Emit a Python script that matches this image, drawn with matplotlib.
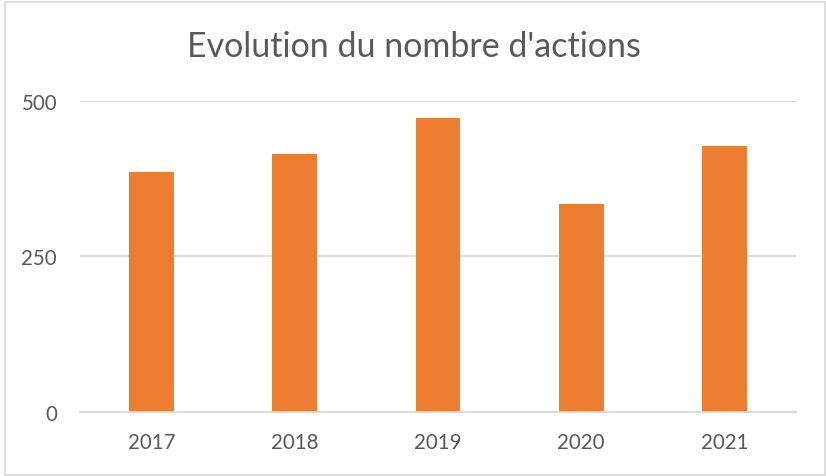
import matplotlib.pyplot as plt
from matplotlib.patches import Rectangle

# data
years = ['2017', '2018', '2019', '2020', '2021']
actions = [386, 414, 472, 334, 427]
y_ticks = [0, 250, 500]

text_color = '#595959'
grid_color = '#d9d9d9'
bar_color = '#ed7d31'

plt.rcParams['font.family'] = ['Lato', 'DejaVu Sans']

W, H = 826, 477
fig = plt.figure(figsize=(W / 100, H / 100), dpi=100)
fig.patch.set_facecolor('white')

# light grey frame around the whole chart
fig.patches.append(Rectangle((4.5 / W, 1 - 475.5 / H), 820 / W, 473 / H,
                             transform=fig.transFigure, fill=False,
                             edgecolor=grid_color, linewidth=1.3))

ax = fig.add_axes([80 / W, 1 - 413.3 / H, 716 / W, 311.8 / H])

x = range(len(years))
ax.bar(x, actions, width=0.314, color=bar_color, zorder=3)

ax.set_xlim(-0.5, len(years) - 0.5)
ax.set_ylim(0, 500)
ax.set_xticks(list(x))
ax.set_xticklabels(years)
ax.set_yticks(y_ticks)
ax.yaxis.grid(True, color=grid_color, linewidth=1.3, zorder=0)

for side in ['top', 'right', 'left']:
    ax.spines[side].set_visible(False)
ax.spines['bottom'].set_color(grid_color)
ax.spines['bottom'].set_linewidth(1.3)
ax.spines['bottom'].set_zorder(4)

ax.tick_params(axis='both', length=0, labelsize=14.8, labelcolor=text_color)
ax.tick_params(axis='y', pad=16.5)
ax.tick_params(axis='x', pad=14)

fig.text(414 / W, 1 - 57 / H, "Evolution du nombre d'actions",
         ha='center', va='baseline', fontsize=24.5, color=text_color)

fig.savefig('out.png', dpi=100)
